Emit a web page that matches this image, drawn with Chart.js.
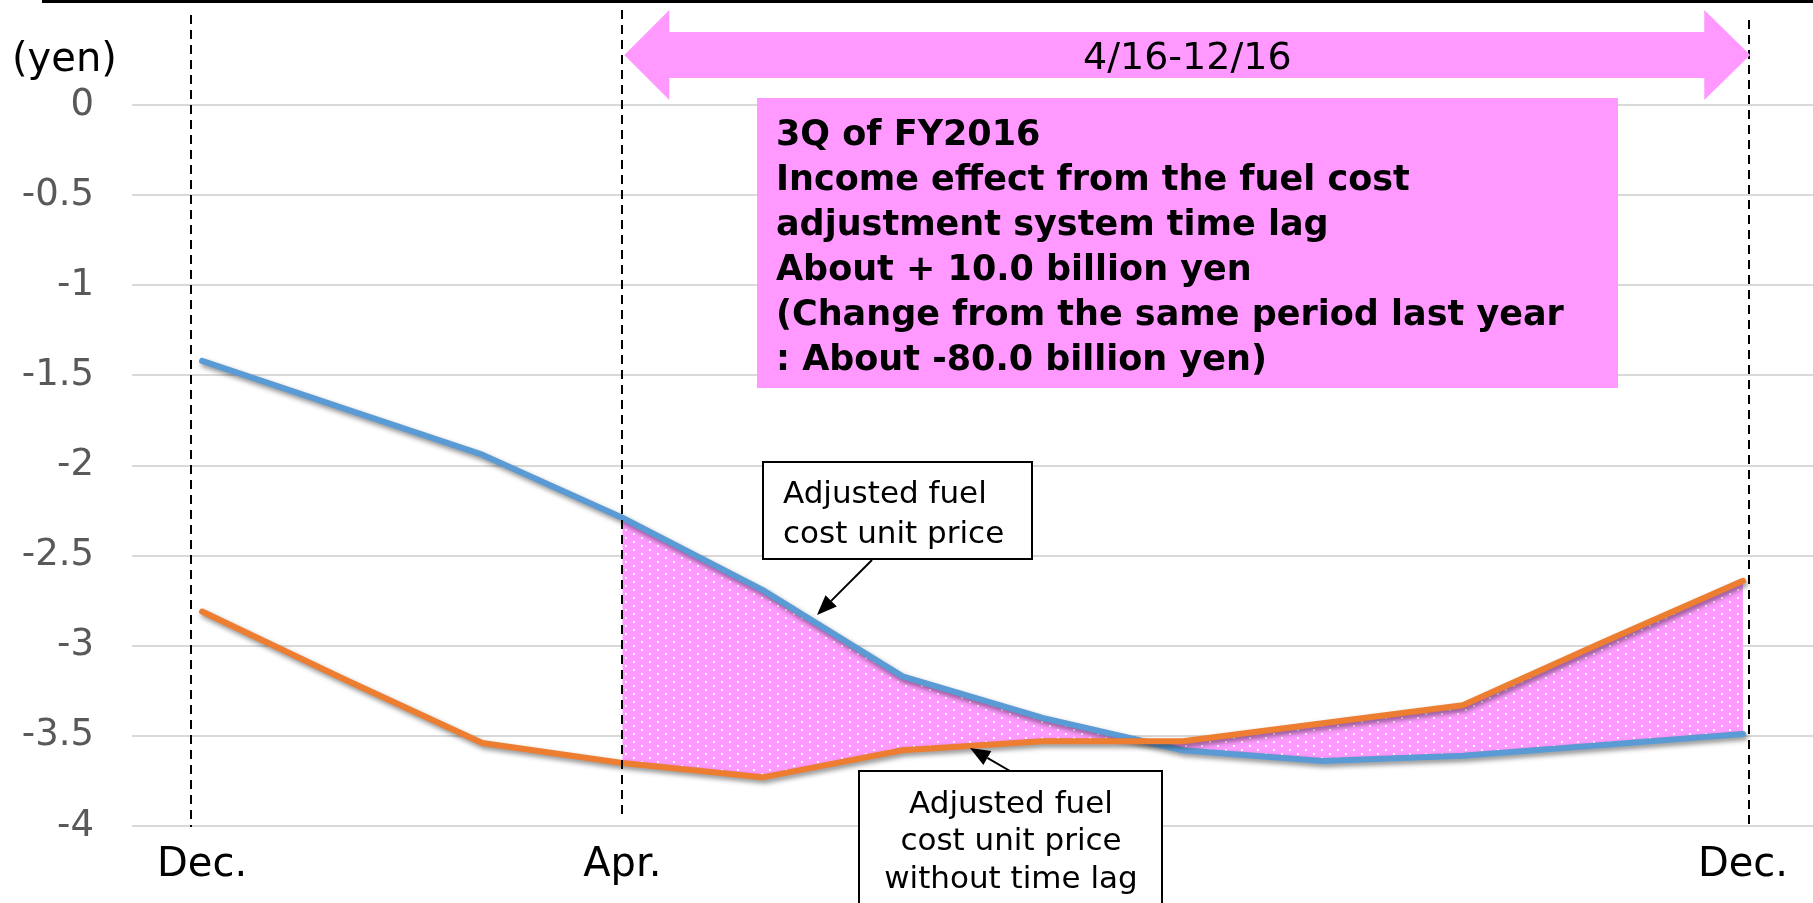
<!DOCTYPE html>
<html>
<head>
<meta charset="utf-8">
<script src="https://cdn.jsdelivr.net/npm/chart.js@4.4.1/dist/chart.umd.min.js"></script>
<style>
  html, body { margin: 0; padding: 0; background: #fff; overflow: hidden; }
  canvas { display: block; }
</style>
</head>
<body>
<canvas id="grafico" width="1813" height="903"></canvas>
<script>
// month categories (only three are labelled on the axis)
const months = ['Dec.', '', '', 'Apr.', '', '', '', '', '', '', '', 'Dec.'];

// yen
const unit_price = [-1.42, -1.68, -1.94, -2.29, -2.69, -3.17, -3.40, -3.58, -3.64, -3.61, -3.55, -3.49];
const unit_price_no_lag = [-2.81, -3.18, -3.54, -3.65, -3.73, -3.58, -3.53, -3.53, -3.43, -3.33, -2.98, -2.64];

// time lag area starts at April
const lag_start = 3;

const y_min = -4;
const y_max = 0;
const y_step = 0.5;

const period_label = '4/16-12/16';
const note_lines = [
    '3Q of FY2016',
    'Income effect from the fuel cost',
    'adjustment system time lag',
    'About + 10.0 billion yen',
    '(Change from the same period last year',
    ': About -80.0 billion yen)'
];
const label_price = ['Adjusted fuel', 'cost unit price'];
const label_no_lag = ['Adjusted fuel', 'cost unit price', 'without time lag'];

const FONTE = '"DejaVu Sans", Verdana, sans-serif';
const ROSA = '#ff99ff';

function cria_padrao() {
    const c = document.createElement('canvas');
    c.width = 16;
    c.height = 8;
    const p = c.getContext('2d');
    p.fillStyle = ROSA;
    p.fillRect(0, 0, 16, 8);
    p.fillStyle = '#ffffff';
    p.fillRect(1, 1, 2, 2);
    p.fillRect(9, 5, 2, 2);
    return p.createPattern(c, 'repeat');
}

function seta(ctx, x1, y1, x2, y2) {
    const ang = Math.atan2(y2 - y1, x2 - x1);
    const len = 20, larg = 8;
    const bx = x2 - len * Math.cos(ang);
    const by = y2 - len * Math.sin(ang);
    ctx.beginPath();
    ctx.moveTo(x1, y1);
    ctx.lineTo(bx, by);
    ctx.stroke();
    ctx.beginPath();
    ctx.moveTo(x2, y2);
    ctx.lineTo(bx + larg * Math.sin(ang), by - larg * Math.cos(ang));
    ctx.lineTo(bx - larg * Math.sin(ang), by + larg * Math.cos(ang));
    ctx.closePath();
    ctx.fill();
}

function caixa(ctx, x, y, w, h) {
    ctx.fillStyle = '#ffffff';
    ctx.fillRect(x, y, w, h);
    ctx.strokeStyle = '#000000';
    ctx.lineWidth = 2;
    ctx.strokeRect(x, y, w, h);
}

const sombra = {
    id: 'sombra',
    beforeDatasetDraw(chart, args) {
        if (args.index === 2) return;
        const ctx = chart.ctx;
        ctx.save();
        ctx.shadowColor = 'rgba(0, 0, 0, 0.45)';
        ctx.shadowBlur = 5;
        ctx.shadowOffsetX = 2;
        ctx.shadowOffsetY = 3;
    },
    afterDatasetDraw(chart, args) {
        if (args.index === 2) return;
        chart.ctx.restore();
    }
};

// dashed month markers, in category units
const marcadores = [
    {pos: -0.076, top: 15, bottom: 827},
    {pos: 3, top: 10, bottom: 817},
    {pos: 11.045, top: 20, bottom: 828}
];

const decoracao = {
    id: 'decoracao',
    afterDatasetsDraw(chart) {
        const ctx = chart.ctx;
        const x = chart.scales.x;
        ctx.save();
        ctx.strokeStyle = '#000000';
        ctx.lineWidth = 2;
        ctx.setLineDash([9, 6]);
        marcadores.forEach(m => {
            const px = Math.round(x.getPixelForValue(m.pos));
            ctx.beginPath();
            ctx.moveTo(px, m.top);
            ctx.lineTo(px, m.bottom);
            ctx.stroke();
        });
        ctx.restore();
    },
    afterDraw(chart) {
        const ctx = chart.ctx;
        const x = chart.scales.x;
        ctx.save();

        // top rule
        ctx.fillStyle = '#000000';
        ctx.fillRect(42, 0, 1771, 3);

        // unit
        ctx.font = '40px ' + FONTE;
        ctx.textAlign = 'left';
        ctx.textBaseline = 'middle';
        ctx.fillText('(yen)', 12, 61);

        // double arrow for the period
        const l = x.getPixelForValue(marcadores[1].pos) + 2;
        const r = x.getPixelForValue(marcadores[2].pos) + 1;
        const cy = 55;
        ctx.fillStyle = ROSA;
        ctx.beginPath();
        ctx.moveTo(l, cy);
        ctx.lineTo(l + 45, cy - 45);
        ctx.lineTo(l + 45, cy - 23);
        ctx.lineTo(r - 46, cy - 23);
        ctx.lineTo(r - 46, cy - 45);
        ctx.lineTo(r, cy);
        ctx.lineTo(r - 46, cy + 45);
        ctx.lineTo(r - 46, cy + 23);
        ctx.lineTo(l + 45, cy + 23);
        ctx.lineTo(l + 45, cy + 45);
        ctx.closePath();
        ctx.fill();
        ctx.fillStyle = '#000000';
        ctx.font = '38px ' + FONTE;
        ctx.textAlign = 'center';
        ctx.fillText(period_label, (l + r) / 2, 59);

        // note box
        ctx.fillStyle = ROSA;
        ctx.fillRect(757, 98, 861, 290);
        ctx.fillStyle = '#000000';
        ctx.font = 'bold 35px ' + FONTE;
        ctx.textAlign = 'left';
        ctx.textBaseline = 'alphabetic';
        note_lines.forEach((t, i) => ctx.fillText(t, 776, 145 + 45 * i));

        // label for adjusted price
        caixa(ctx, 763, 462, 269, 97);
        ctx.fillStyle = '#000000';
        ctx.font = '31px ' + FONTE;
        label_price.forEach((t, i) => ctx.fillText(t, 783, 503 + 39.5 * i));
        ctx.lineWidth = 2;
        seta(ctx, 872, 560, 817, 615);

        // label for price without lag
        caixa(ctx, 859, 771, 303, 150);
        ctx.fillStyle = '#000000';
        ctx.textAlign = 'center';
        label_no_lag.forEach((t, i) => ctx.fillText(t, 1011, 812.5 + 37.8 * i));
        ctx.lineWidth = 2;
        seta(ctx, 1010, 771, 970, 748);

        ctx.restore();
    }
};

function renderiza_grafico() {
    const ctx = document.getElementById('grafico').getContext('2d');
    const lag_area = unit_price.map((v, i) => i >= lag_start ? v : null);

    new Chart(ctx, {
        type: 'line',
        data: {
            labels: months,
            datasets: [
                {
                    label: 'Adjusted fuel cost unit price',
                    data: unit_price,
                    borderColor: '#5b9bd5',
                    borderWidth: 6,
                    borderCapStyle: 'round',
                    borderJoinStyle: 'round',
                    pointRadius: 0,
                    fill: false,
                    order: 2
                },
                {
                    label: 'Adjusted fuel cost unit price without time lag',
                    data: unit_price_no_lag,
                    borderColor: '#ed7d31',
                    borderWidth: 6,
                    borderCapStyle: 'round',
                    borderJoinStyle: 'round',
                    pointRadius: 0,
                    fill: false,
                    order: 1
                },
                {
                    label: 'lag',
                    data: lag_area,
                    borderWidth: 0,
                    borderColor: 'rgba(0,0,0,0)',
                    backgroundColor: cria_padrao(),
                    pointRadius: 0,
                    fill: 1,
                    order: 3
                }
            ]
        },
        options: {
            responsive: false,
            animation: false,
            devicePixelRatio: 1,
            layout: {padding: {top: 105, left: 22, right: 0, bottom: 0}},
            plugins: {
                legend: {display: false},
                tooltip: {enabled: false},
                title: {display: false}
            },
            scales: {
                x: {
                    offset: true,
                    grid: {display: false, drawTicks: false},
                    border: {display: false},
                    ticks: {
                        autoSkip: false,
                        maxRotation: 0,
                        minRotation: 0,
                        padding: 16,
                        color: '#000000',
                        font: {family: FONTE, size: 40}
                    },
                    afterFit(scale) { scale.height = 77; }
                },
                y: {
                    min: y_min,
                    max: y_max,
                    grid: {color: '#d9d9d9', lineWidth: 2, drawTicks: false},
                    border: {display: false},
                    ticks: {
                        stepSize: y_step,
                        padding: 38,
                        color: '#595959',
                        font: {family: FONTE, size: 37},
                        callback: v => String(v)
                    },
                    afterFit(scale) { scale.width = 110; }
                }
            }
        },
        plugins: [sombra, decoracao]
    });
}

document.addEventListener('DOMContentLoaded', function () {
    renderiza_grafico();
});
</script>
</body>
</html>
